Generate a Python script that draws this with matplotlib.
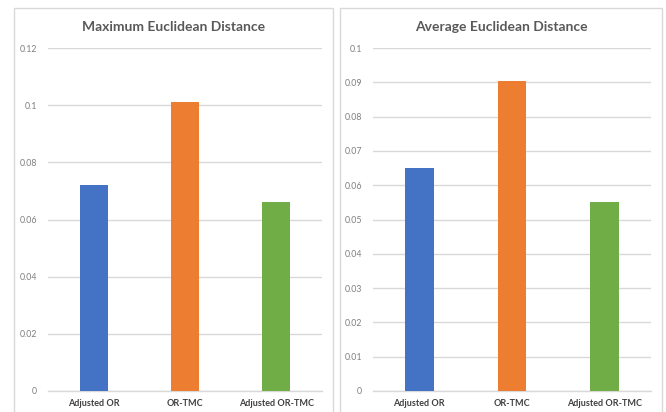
import matplotlib.pyplot as plt
from matplotlib.patches import Rectangle

categories = ["Adjusted OR", "OR-TMC", "Adjusted OR-TMC"]
colors = ["#4472C4", "#ED7D31", "#70AD47"]

max_title = "Maximum Euclidean Distance"
max_values = [0.072, 0.101, 0.066]
max_ticks = [0, 0.02, 0.04, 0.06, 0.08, 0.1, 0.12]
max_ticklabels = ["0", "0.02", "0.04", "0.06", "0.08", "0.1", "0.12"]

avg_title = "Average Euclidean Distance"
avg_values = [0.065, 0.0905, 0.055]
avg_ticks = [0, 0.01, 0.02, 0.03, 0.04, 0.05, 0.06, 0.07, 0.08, 0.09, 0.1]
avg_ticklabels = ["0", "0.01", "0.02", "0.03", "0.04", "0.05", "0.06",
                  "0.07", "0.08", "0.09", "0.1"]

W, H = 666, 412
fig = plt.figure(figsize=(W / 100, H / 100), dpi=100)
fig.patch.set_facecolor("white")

FONT = ["Lato", "DejaVu Sans"]
GRID = "#d9d9d9"
TXT = "#595959"


def px(x0, y0, x1, y1):
    """Pixel box (top-left origin) -> figure rect."""
    return [x0 / W, 1 - y1 / H, (x1 - x0) / W, (y1 - y0) / H]


# chart-area frames
for (x0, y0, x1, y1) in [(14, 8, 333, 420), (339.5, 8, 662, 420)]:
    fig.add_artist(Rectangle((x0 / W, 1 - y1 / H), (x1 - x0) / W, (y1 - y0) / H,
                             transform=fig.transFigure, facecolor="none",
                             edgecolor=GRID, linewidth=1.0, clip_on=False))


def panel(rect, title, values, ticks, ticklabels, title_x):
    ax = fig.add_axes(rect)
    x = range(len(categories))
    ax.bar(x, values, width=0.31, color=colors, zorder=3)
    ax.set_xlim(-0.5, len(categories) - 0.5)
    ax.set_ylim(ticks[0], ticks[-1])
    ax.set_yticks(ticks)
    ax.set_yticklabels(ticklabels, fontsize=6.3, color="#7f7f7f", family=FONT)
    ax.set_xticks(list(x))
    ax.set_xticklabels(categories, fontsize=6.5, color="#404040",
                       family=FONT, fontweight="bold")
    ax.tick_params(axis="both", length=0)
    ax.tick_params(axis="y", pad=8)
    ax.tick_params(axis="x", pad=6)
    ax.yaxis.grid(True, color=GRID, linewidth=1.0, zorder=0)
    ax.set_axisbelow(True)
    for s in ["top", "right", "left"]:
        ax.spines[s].set_visible(False)
    ax.spines["bottom"].set_color(GRID)
    ax.spines["bottom"].set_linewidth(1.0)
    fig.text(title_x / W, 1 - 27 / H, title, ha="center", va="center",
             fontsize=10, fontweight="bold", color=TXT, family=FONT)
    return ax


panel(px(48, 48, 322, 391), max_title, max_values, max_ticks, max_ticklabels, 174)
panel(px(373, 48, 651, 391), avg_title, avg_values, avg_ticks, avg_ticklabels, 501)

fig.savefig("out.png", dpi=100, facecolor="white")
